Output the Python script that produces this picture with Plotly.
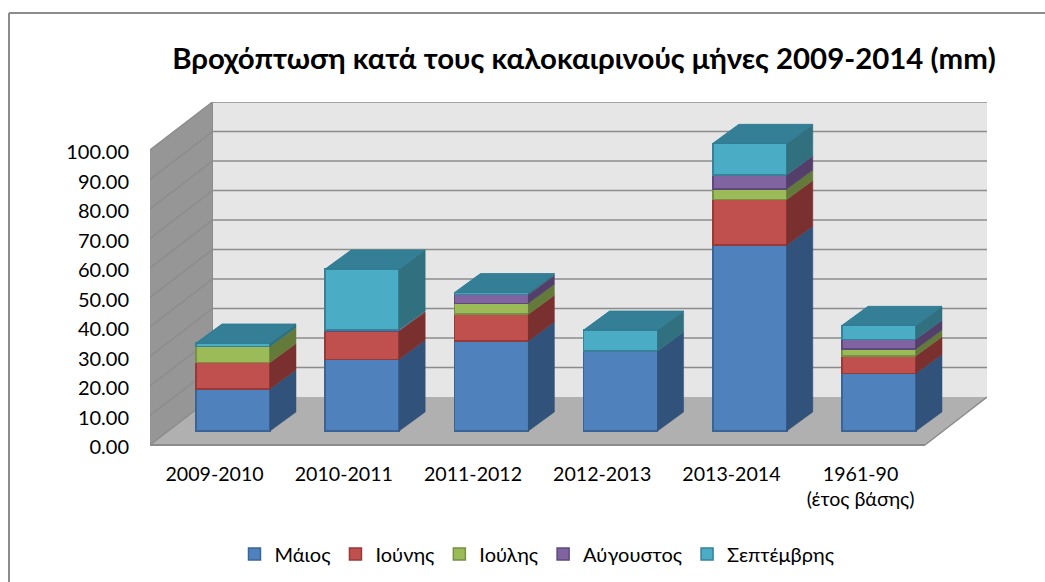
import plotly.graph_objects as go

categories = ["2009-2010", "2010-2011", "2011-2012", "2012-2013", "2013-2014", "1961-90<br>(έτος βάσης)"]
maios = [14.2, 24.3, 30.5, 27.1, 63.0, 19.5]
iounis = [9.0, 9.6, 9.1, 0.0, 15.5, 6.0]
ioulis = [5.4, 0.0, 3.7, 0.0, 3.5, 2.3]
avgoustos = [0.0, 0.3, 3.0, 0.0, 4.8, 3.3]
septemvris = [1.2, 20.7, 0.6, 7.1, 10.7, 4.7]
series_names = ["Μάιος", "Ιούνης", "Ιούλης", "Αύγουστος", "Σεπτέμβρης"]
series_values = [maios, iounis, ioulis, avgoustos, septemvris]
front_colors = ["#4F81BD", "#C0504D", "#9BBB59", "#8064A2", "#4BACC6"]
edge_colors = ["#3A6496", "#953A38", "#769044", "#5E4A7A", "#378299"]
side_colors = ["#31527A", "#7A302E", "#647A3A", "#533F6A", "#31707F"]
top_color = "#357F96"
tick_values = [0, 10, 20, 30, 40, 50, 60, 70, 80, 90, 100]

W, H = 1045, 582
L, R, T, B = 150, 987, 102, 455      # plot box, in page pixels
FLOOR = 445                          # pixel of the front floor edge
PX_X = 129.2                         # pixels per category
PX_Y = 2.95                          # pixels per value unit
BAR0 = 233                           # pixel of the first bar centre
BAR_BASE = 431                       # pixel of value 0 at the bar plane
LABEL_ZERO = 447                     # pixel of the 0.00 tick label
BAR_W = 74 / PX_X
x_lo = (L - BAR0) / PX_X
x_hi = (R - BAR0) / PX_X
y_bottom = (BAR_BASE - B) / PX_Y
y_top = (BAR_BASE - T) / PX_Y
y_lo = (BAR_BASE - FLOOR) / PX_Y
DX = 26 / PX_X
DY = 19 / PX_Y
WX = 62.5 / PX_X
WY = 48 / PX_Y
FRONT_W = (925 - 150) / PX_X


def path(points):
    return "M" + " L".join(f"{a:.4f},{b:.4f}" for a, b in points) + " Z"


def paper_x(px):
    return (px - L) / (R - L)


def paper_y(px):
    return (B - px) / (B - T)


shapes = []
back_col, left_col, floor_col, line_col = "#E6E6E6", "#969696", "#B0B0B0", "#8C8C8C"
front_top = y_lo + 100
back_x0 = x_lo + WX
shapes.append(dict(type="path", path=path([(back_x0, y_lo + WY), (x_hi, y_lo + WY), (x_hi, front_top + WY), (back_x0, front_top + WY)]),
                   fillcolor=back_col, line=dict(width=0), layer="below"))
shapes.append(dict(type="path", path=path([(x_lo, y_lo), (back_x0, y_lo + WY), (back_x0, front_top + WY), (x_lo, front_top)]),
                   fillcolor=left_col, line=dict(width=0), layer="below"))
shapes.append(dict(type="path", path=path([(x_lo, y_lo), (x_lo + FRONT_W, y_lo), (x_hi, y_lo + WY), (back_x0, y_lo + WY)]),
                   fillcolor=floor_col, line=dict(width=0), layer="below"))
for t in tick_values:
    yy = y_lo + t
    if t > 0:
        shapes.append(dict(type="line", x0=back_x0, x1=x_hi, y0=yy + WY, y1=yy + WY,
                           line=dict(color=line_col, width=1.5), layer="below"))
    shapes.append(dict(type="line", x0=x_lo, x1=back_x0, y0=yy, y1=yy + WY,
                       line=dict(color=line_col, width=1.5), layer="below"))
shapes.append(dict(type="line", x0=x_lo, x1=x_lo + FRONT_W, y0=y_lo, y1=y_lo, line=dict(color=line_col, width=2), layer="below"))
shapes.append(dict(type="line", x0=x_lo + FRONT_W, x1=x_hi, y0=y_lo, y1=y_lo + WY, line=dict(color=line_col, width=1.5), layer="below"))
shapes.append(dict(type="line", x0=back_x0, x1=back_x0, y0=y_lo + WY, y1=front_top + WY, line=dict(color=line_col, width=1), layer="below"))
# chart frame: only its top and left edges fall inside the picture
shapes.append(dict(type="line", xref="paper", yref="paper", x0=paper_x(9), x1=paper_x(1045), y0=paper_y(13), y1=paper_y(13),
                   line=dict(color="#8C8C8C", width=2), layer="below"))
shapes.append(dict(type="line", xref="paper", yref="paper", x0=paper_x(9), x1=paper_x(9), y0=paper_y(13), y1=paper_y(582),
                   line=dict(color="#8C8C8C", width=2), layer="below"))

fig = go.Figure()
n = len(categories)
xs = list(range(n))

# front faces
for name, vals, fc, ec in zip(series_names, series_values, front_colors, edge_colors):
    fig.add_trace(go.Bar(x=xs, y=vals, name=name, width=BAR_W,
                         marker=dict(color=fc, line=dict(color=ec, width=1.5))))

# side and top faces, from the same values
for i in xs:
    bottom = 0.0
    xr = i + BAR_W / 2
    xl = i - BAR_W / 2
    for vals, sc in zip(series_values, side_colors):
        v = vals[i]
        if v > 0:
            top = bottom + v
            fig.add_trace(go.Scatter(x=[xr, xr + DX, xr + DX, xr, xr], y=[bottom, bottom + DY, top + DY, top, bottom],
                                     mode="lines", fill="toself", fillcolor=sc, line=dict(color=sc, width=0.5),
                                     showlegend=False, hoverinfo="skip"))
            bottom = top
    fig.add_trace(go.Scatter(x=[xl, xl + DX, xr + DX, xr, xl], y=[bottom, bottom + DY, bottom + DY, bottom, bottom],
                             mode="lines", fill="toself", fillcolor=top_color, line=dict(color="#2F7C93", width=1),
                             showlegend=False, hoverinfo="skip"))

FONT = "Lato, 'Noto Sans', sans-serif"
fig.update_layout(
    width=W, height=H,
    margin=dict(l=L, r=W - R, t=T, b=H - B, autoexpand=False),
    paper_bgcolor="#FFFFFF", plot_bgcolor="rgba(0,0,0,0)",
    barmode="stack", shapes=shapes,
    title=dict(text="<b>Βροχόπτωση κατά τους καλοκαιρινούς μήνες 2009-2014 (mm)</b>",
               x=584 / W, xanchor="center", y=1 - 59 / H, yanchor="middle",
               font=dict(family=FONT, size=29.4, color="#000000")),
    legend=dict(orientation="h", x=paper_x(537), xanchor="center", xref="paper", yref="paper", y=paper_y(554), yanchor="middle",
                font=dict(family=FONT, size=20, color="#000000"),
                traceorder="normal", itemwidth=30),
    xaxis=dict(range=[x_lo, x_hi], visible=False),
    yaxis=dict(range=[y_bottom, y_top], visible=False),
    xaxis2=dict(overlaying="x", anchor="y2", domain=[0, 1], range=[-0.5, -0.5 + (x_hi - x_lo)], tickmode="array", tickvals=xs,
                ticktext=categories, showgrid=False, zeroline=False, ticks="outside", ticklen=1, tickcolor="rgba(0,0,0,0)",
                tickfont=dict(family=FONT, size=19.6, color="#000000"), side="bottom", showline=False),
    yaxis2=dict(overlaying="y", anchor="x2", range=[(LABEL_ZERO - B) / PX_Y, (LABEL_ZERO - T) / PX_Y], tickmode="array", tickvals=tick_values,
                tickformat=".2f", showgrid=False, zeroline=False, tickfont=dict(family=FONT, size=20, color="#000000"), ticks="outside", ticklen=16,
                tickcolor="rgba(0,0,0,0)", showline=False, side="left"),
)
# an invisible trace keeps the label axes on the page
fig.add_trace(go.Scatter(x=xs, y=tick_values[:n], xaxis="x2", yaxis="y2", mode="none", showlegend=False, hoverinfo="skip"))
fig.write_html("out.html", config=dict(displayModeBar=False), post_script="document.body.style.margin='0';")
